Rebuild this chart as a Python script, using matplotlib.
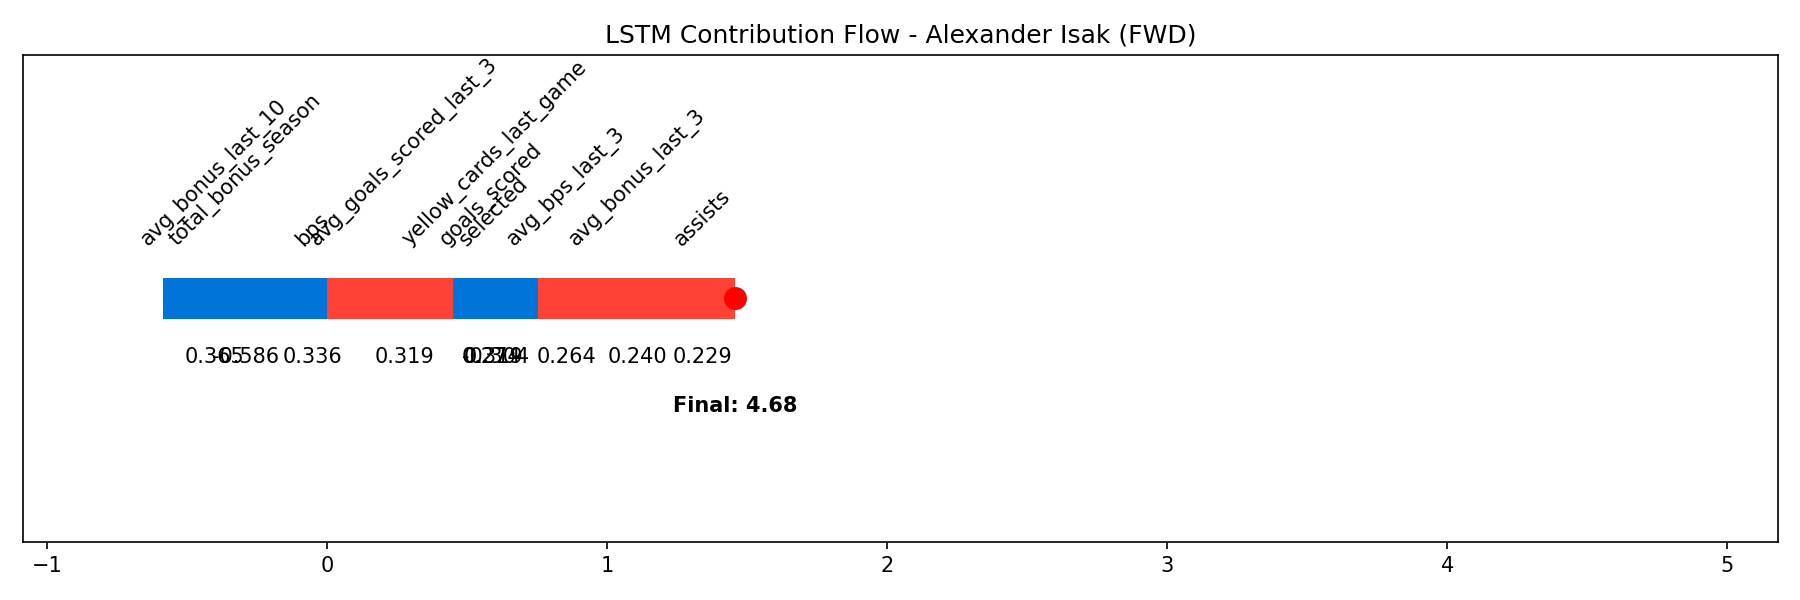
import matplotlib
matplotlib.use("Agg")
import matplotlib.pyplot as plt

PLAYER = "Alexander Isak (FWD)"

# contributions, sorted by absolute value (as in the reference)
features = [
    "total_bonus_season",
    "avg_bonus_last_10",
    "bps",
    "avg_goals_scored_last_3",
    "selected",
    "yellow_cards_last_game",
    "goals_scored",
    "avg_bps_last_3",
    "avg_bonus_last_3",
    "assists",
]
contributions = [-0.586, 0.365, 0.336, 0.319, 0.319, -0.304, 0.274, 0.264, 0.240, 0.229]
final_prediction = 4.68

POS_COLOR = "#FF4136"
NEG_COLOR = "#0074D9"


def main() -> None:
    fig, ax = plt.subplots(figsize=(12, 4), dpi=150)

    cumulative = 0.0
    lows = [0.0]
    for feat, val in zip(features, contributions):
        color = POS_COLOR if val > 0 else NEG_COLOR
        # negative segments end up drawn over the positive ones
        ax.barh(0, val, left=cumulative, height=0.17, color=color,
                zorder=3 if val < 0 else 2)
        mid = cumulative + val / 2
        ax.text(mid, 0.2, feat, rotation=45, ha="center", va="bottom", fontsize=10)
        ax.text(mid, -0.2, f"{val:.3f}", ha="center", va="top", fontsize=10)
        cumulative += val
        lows.append(cumulative)

    ax.scatter(cumulative, 0, color="red", s=100, zorder=5)
    ax.text(cumulative, -0.4, f"Final: {final_prediction:.2f}", ha="center",
            va="top", fontsize=10, fontweight="bold")

    ax.set_xlim(min(lows) - 0.5, final_prediction + 0.5)
    ax.set_ylim(-1, 1)
    ax.set_yticks([])
    ax.set_title(f"LSTM Contribution Flow - {PLAYER}", fontsize=12)

    fig.subplots_adjust(left=0.0128, right=0.9876, top=0.9083, bottom=0.0972)
    fig.savefig("out.png", dpi=150)
    plt.close(fig)


if __name__ == "__main__":
    main()
